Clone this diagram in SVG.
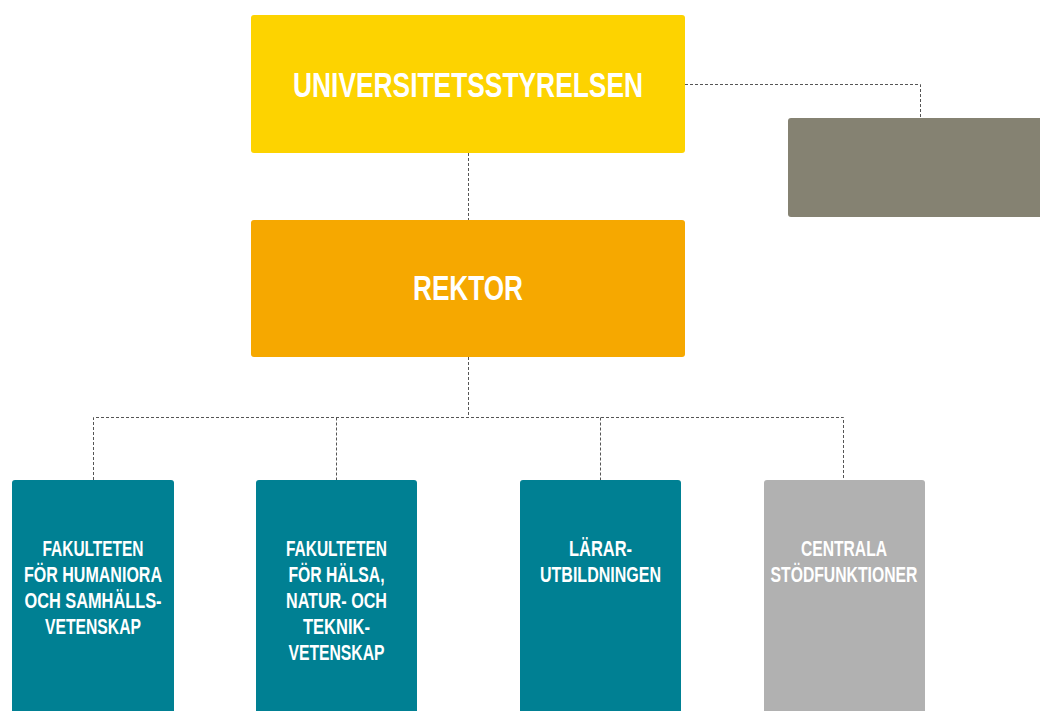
<svg xmlns="http://www.w3.org/2000/svg" width="1040" height="711" viewBox="0 0 1040 711">
<style>
.t{font-family:"Liberation Sans Narrow","Liberation Sans",Arial,sans-serif;font-weight:bold;fill:#fff;text-anchor:middle}
.big{font-size:35px}
.sm{font-size:22px}
.c{fill:none;stroke:#555;stroke-width:1;stroke-dasharray:3 2}
</style>
<rect width="1040" height="711" fill="#fff"/>
<g id="connectors">
<path class="c" d="M685 84.5H920.5V118"/>
<path class="c" d="M468.5 153V220"/>
<path class="c" d="M468.5 357V417.5"/>
<path class="c" d="M93.5 480V417.5H843.5V480"/>
<path class="c" d="M336.5 417.5V480"/>
<path class="c" d="M600.5 417.5V480"/>
</g>
<g id="universitetsstyrelsen">
<rect x="251" y="15" width="434" height="138" rx="3" fill="#FDD300"/>
<text class="t big" x="468" y="97" textLength="350" lengthAdjust="spacingAndGlyphs">UNIVERSITETSSTYRELSEN</text>
</g>
<g id="grey-box">
<rect x="788" y="118" width="260" height="99" rx="3" fill="#858272"/>
</g>
<g id="rektor">
<rect x="251" y="220" width="434" height="137" rx="3" fill="#F6A800"/>
<text class="t big" x="468" y="300" textLength="110" lengthAdjust="spacingAndGlyphs">REKTOR</text>
</g>
<g id="fakulteten-humaniora">
<rect x="12" y="480" width="162" height="240" rx="3" fill="#008093"/>
<text class="t sm" x="93" y="556" textLength="101" lengthAdjust="spacingAndGlyphs">FAKULTETEN</text>
<text class="t sm" x="93" y="582" textLength="138" lengthAdjust="spacingAndGlyphs">FÖR HUMANIORA</text>
<text class="t sm" x="93" y="608" textLength="137" lengthAdjust="spacingAndGlyphs">OCH SAMHÄLLS-</text>
<text class="t sm" x="93" y="634" textLength="96" lengthAdjust="spacingAndGlyphs">VETENSKAP</text>
</g>
<g id="fakulteten-halsa">
<rect x="256" y="480" width="161" height="240" rx="3" fill="#008093"/>
<text class="t sm" x="336.5" y="556" textLength="101" lengthAdjust="spacingAndGlyphs">FAKULTETEN</text>
<text class="t sm" x="336.5" y="582" textLength="96" lengthAdjust="spacingAndGlyphs">FÖR HÄLSA,</text>
<text class="t sm" x="336.5" y="608" textLength="101" lengthAdjust="spacingAndGlyphs">NATUR- OCH</text>
<text class="t sm" x="336.5" y="634" textLength="67" lengthAdjust="spacingAndGlyphs">TEKNIK-</text>
<text class="t sm" x="336.5" y="660" textLength="96" lengthAdjust="spacingAndGlyphs">VETENSKAP</text>
</g>
<g id="lararutbildningen">
<rect x="520" y="480" width="161" height="240" rx="3" fill="#008093"/>
<text class="t sm" x="600.5" y="556" textLength="63" lengthAdjust="spacingAndGlyphs">LÄRAR-</text>
<text class="t sm" x="600.5" y="582" textLength="121" lengthAdjust="spacingAndGlyphs">UTBILDNINGEN</text>
</g>
<g id="centrala-stodfunktioner">
<rect x="764" y="480" width="161" height="240" rx="3" fill="#B1B1B1"/>
<text class="t sm" x="844" y="556" textLength="86" lengthAdjust="spacingAndGlyphs">CENTRALA</text>
<text class="t sm" x="844" y="582" textLength="147" lengthAdjust="spacingAndGlyphs">STÖDFUNKTIONER</text>
</g>
</svg>
